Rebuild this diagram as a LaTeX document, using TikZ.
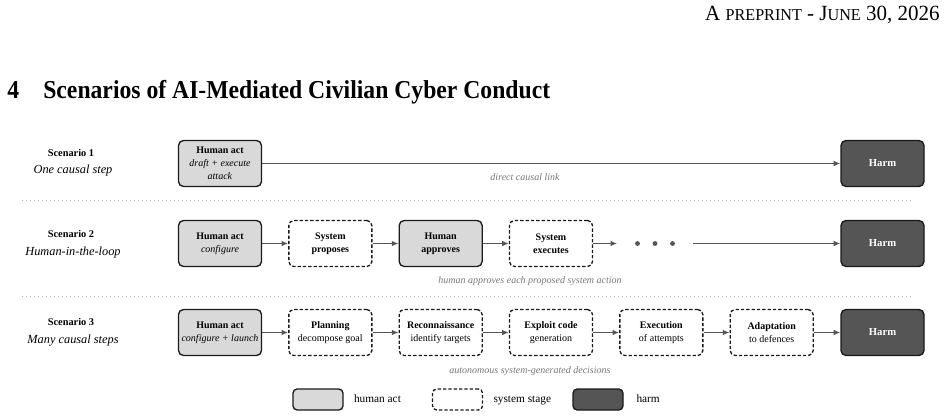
\documentclass[tikz,border=0pt]{standalone}
\usepackage{graphicx}
\usepackage{fontspec}
\setmainfont{Liberation Serif}
\usetikzlibrary{arrows.meta,positioning}
\definecolor{humanfill}{HTML}{D9D9D9}
\definecolor{harmfill}{HTML}{555555}
\definecolor{linkgray}{HTML}{555555}
\definecolor{notegray}{HTML}{777777}
\definecolor{rulegray}{HTML}{BBBBBB}
\definecolor{edgedark}{HTML}{1A1A1A}

\begin{document}
\begin{tikzpicture}[
    x=0.6pt, y=-0.6pt,
    node distance=6pt and 15.6pt,
    box/.style={rounded corners=3pt, draw=edgedark, line width=0.8pt, align=center, minimum width=49.8pt, minimum height=27.6pt, inner sep=1pt, font=\fontsize{6}{7.8}\selectfont},
    human/.style={box, fill=humanfill},
    sysstage/.style={box, dash pattern=on 2pt off 1.2pt},
    harm/.style={box, fill=harmfill, text=white, font=\fontsize{6.4}{7.8}\selectfont\bfseries},
    arrow/.style={-{Latex[length=4pt,width=3.4pt]}, line width=0.9pt, draw=linkgray},
    note/.style={font=\fontsize{6}{7}\selectfont\itshape, text=notegray},
    scen/.style={font=\fontsize{6.2}{7}\selectfont\bfseries},
    scensub/.style={font=\fontsize{7.4}{8}\selectfont\itshape},
    sep/.style={draw=rulegray, line width=0.4pt, dotted},
    legbox/.style={rounded corners=2.5pt, draw=edgedark, line width=0.8pt, minimum width=30pt, minimum height=12.6pt, inner sep=0pt},
    legtext/.style={font=\fontsize{6.8}{8}\selectfont, inner sep=0pt, text height=4.6pt, text depth=1.5pt}
  ]
    \useasboundingbox (0,0) rectangle (947,417);

    % page header and section title
    \node[anchor=base east, inner sep=0pt, font=\fontsize{13}{14}\selectfont] (header) at (940,20.7) {\scalebox{0.97}[1]{A {\fontsize{10}{11}\selectfont PREPRINT} - J{\fontsize{10}{11}\selectfont UNE} 30, 2026}};
    \node[anchor=base west, inner sep=0pt, font=\fontsize{14.2}{16}\selectfont\bfseries] (secnum) at (7,98) {\scalebox{1}[1.09]{4}};
    \node[anchor=base west, inner sep=0pt, font=\fontsize{14.2}{16}\selectfont\bfseries] (sectitle) at (43,98) {\scalebox{1}[1.09]{Scenarios of AI-Mediated Civilian Cyber Conduct}};

    % scenario 1
    \node[scen] (sc1) at (71,152.5) {Scenario 1};
    \node[scensub] (sub1) at (73,171) {One causal step};
    \node[human] (act1) at (220,163.5) {\textbf{Human act}\\\textit{draft + execute}\\\textit{attack}};
    \node[harm] (harm1) at (882.5,163.5) {Harm};
    \draw[arrow] (act1) -- (harm1);
    \node[note] (note1) at (525,177) {direct causal link};

    \draw[sep] (22,200.5) -- (912,200.5);

    % scenario 2
    \node[scen] (sc2) at (71,234) {Scenario 2};
    \node[scensub] (sub2) at (73,252.5) {Human-in-the-loop};
    \node[human] (act2) at (220,243.5) {\textbf{Human act}\\\textit{configure}};
    \node[sysstage, right=of act2] (propose) {\textbf{System}\\\textbf{proposes}};
    \node[human, right=of propose] (approve) {\textbf{Human}\\\textbf{approves}};
    \node[sysstage, right=of approve] (execute) {\textbf{System}\\\textbf{executes}};
    \node[minimum width=45pt, minimum height=10pt, inner sep=0pt, right=14.4pt of execute] (dots) {};
    \foreach \dx in {-10.5,0,10.5}
      \fill[linkgray] ([xshift=\dx pt]dots.center) circle (1.45pt);
    \node[harm] (harm2) at (882.5,243.5) {Harm};
    \draw[arrow] (act2) -- (propose);
    \draw[arrow] (propose) -- (approve);
    \draw[arrow] (approve) -- (execute);
    \draw[arrow] (execute) -- (dots);
    \draw[arrow] (dots) -- (harm2);
    \node[note] (note2) at (530,281) {human approves each proposed system action};

    \draw[sep] (22,296) -- (912,296);

    % scenario 3
    \node[scen] (sc3) at (71,322) {Scenario 3};
    \node[scensub] (sub3) at (73,340.5) {Many causal steps};
    \node[human] (act3) at (220,332.5) {\textbf{Human act}\\\textit{configure + launch}};
    \node[sysstage, right=of act3] (plan) {\textbf{Planning}\\decompose goal};
    \node[sysstage, right=of plan] (recon) {\textbf{Reconnaissance}\\identify targets};
    \node[sysstage, right=of recon] (exploit) {\textbf{Exploit code}\\generation};
    \node[sysstage, right=of exploit] (attempt) {\textbf{Execution}\\of attempts};
    \node[sysstage, right=of attempt] (adapt) {\textbf{Adaptation}\\to defences};
    \node[harm] (harm3) at (882.5,332.5) {Harm};
    \foreach \a/\b in {act3/plan, plan/recon, recon/exploit, exploit/attempt, attempt/adapt, adapt/harm3}
      \draw[arrow] (\a) -- (\b);
    \node[note] (note3) at (530,371) {autonomous system-generated decisions};

    % legend
    \node[legbox, fill=humanfill] (keyhuman) at (318,399.5) {};
    \node[legtext, right=6pt of keyhuman] (keyhumantext) {human act};
    \node[legbox, dash pattern=on 2pt off 1.2pt] (keysys) at (457.5,399.5) {};
    \node[legtext, right=6pt of keysys] (keysystext) {system stage};
    \node[legbox, fill=harmfill] (keyharm) at (598,399.5) {};
    \node[legtext, right=7.5pt of keyharm] (keyharmtext) {harm};
  \end{tikzpicture}
\end{document}
